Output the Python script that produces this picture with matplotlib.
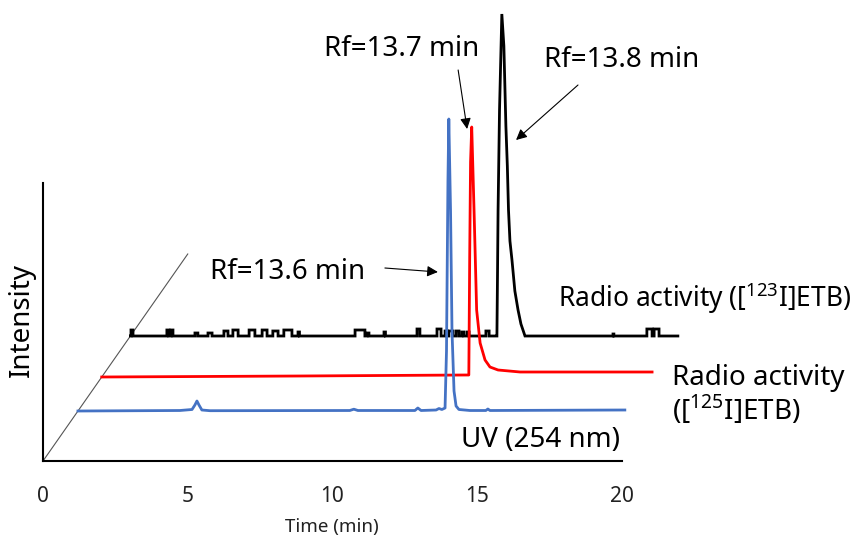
import matplotlib
matplotlib.use("Agg")
import matplotlib.pyplot as plt

plt.rcParams['font.family'] = ['Noto Sans', 'DejaVu Sans']
plt.rcParams['mathtext.fontset'] = 'custom'
plt.rcParams['mathtext.rm'] = 'Noto Sans'

# ── data: retention time (min, own frame) vs. signal (a.u.) ──────────────────

# UV 254 nm
uv_t = [0.00, 3.52, 3.94, 4.04, 4.11, 4.18, 4.28, 4.56, 9.39, 9.53, 9.67,
        11.64, 11.74, 11.85, 12.37, 12.47, 12.57, 12.68, 12.73, 12.78, 12.81,
        12.87, 12.92, 12.99, 13.06, 13.16, 13.54, 14.09, 14.16, 14.23, 18.89]
uv_h = [0, 0.5, 1.5, 6, 10, 6, 1, 0.3, 0.5, 1.8, 0.5,
        0.5, 3, 0.5, 1, 2.5, 1.5, 3, 60, 230, 292,
        200, 80, 20, 5, 1.5, 0.5, 0.5, 2, 0.5, 1]

# [125I]ETB radio trace
i125_t = [0.00, 6.85, 12.58, 12.68, 12.71, 12.74, 12.78, 12.86, 12.95, 13.07,
          13.24, 13.41, 13.69, 14.45, 19.01]
i125_h = [0, 1, 2, 2, 120, 215, 250, 167, 67, 34, 17, 10, 7, 5, 5]

# [123I]ETB radio trace: main peak + digitiser noise pulses
i123_peak_t = [12.63, 12.66, 12.68, 12.70, 12.75, 12.83, 12.90, 12.97, 13.02,
               13.06, 13.11, 13.18, 13.28, 13.39, 13.49, 13.56, 13.63]
i123_peak_h = [0, 0, 60, 126, 226, 322, 290, 210, 170, 126, 95, 76, 45, 26,
               12, 6, 0]
i123_end = 18.91
pulse_start = [0.02, 1.26, 1.40, 2.23, 2.68, 3.23, 3.54, 4.10, 4.55, 4.92, 5.30,
               5.79, 7.76, 8.17, 8.76, 9.90, 10.59, 10.87, 11.00, 11.25, 11.45,
               11.63, 12.28, 16.67, 17.84, 18.09]
pulse_end = [0.09, 1.33, 1.47, 2.33, 2.82, 3.37, 3.72, 4.30, 4.72, 5.10, 5.58,
             5.84, 8.10, 8.24, 8.81, 10.00, 10.73, 10.94, 11.14, 11.35, 11.52,
             11.70, 12.39, 16.70, 18.02, 18.26]
pulse_height = [6, 6, 6, 3, 3, 5, 6, 6, 6, 5, 6, 4, 6, 3, 4, 7, 7, 5, 5, 5, 4,
                4, 5, 2, 7, 7]

# waterfall layout: vertical offset of each trace, diagonal depth axis
offsets = {'uv': 50, 'i125': 84, 'i123': 125}
depth_end = (5.0, 207)
slope = depth_end[0] / depth_end[1]

# build the stepped [123I] trace
segments = [(list(i123_peak_t), list(i123_peak_h))]
for s, e, h in zip(pulse_start, pulse_end, pulse_height):
    segments.append(([s, s, e, e], [0, h, h, 0]))
segments.sort(key=lambda seg: seg[0][0])
i123_t, i123_h = [0.0], [0.0]
for ts, hs in segments:
    i123_t += ts
    i123_h += hs
i123_t.append(i123_end)
i123_h.append(0)


def shifted(t, h, off):
    return [v + off * slope for v in t], [v + off for v in h]


# ── figure ────────────────────────────────────────────────────────────────────

fig = plt.figure(figsize=(8.65, 5.35), dpi=100)
ax = fig.add_axes([0, 0, 1, 1])
ax.set_xlim(-43 / 28.95, (865 - 43) / 28.95)
ax.set_ylim(-74, 461)

for side in ['top', 'right']:
    ax.spines[side].set_visible(False)
ax.spines['bottom'].set_position(('data', 0))
ax.spines['bottom'].set_bounds(0, 20)
ax.spines['left'].set_position(('data', 0))
ax.spines['left'].set_bounds(0, 278)
for side in ['bottom', 'left']:
    ax.spines[side].set_linewidth(1.5)
ax.set_yticks([])
ax.set_xticks([0, 5, 10, 15, 20])
ax.tick_params(axis='x', length=0, pad=18, labelsize=15, colors='#222222')

# depth axis
ax.plot([0, depth_end[0]], [0, depth_end[1]], color='#555555', lw=0.8)

x, y = shifted(i123_t, i123_h, offsets['i123'])
ax.plot(x, y, color='black', lw=2, zorder=3, solid_joinstyle='miter')
x, y = shifted(i125_t, i125_h, offsets['i125'])
ax.plot(x, y, color='#FF0000', lw=2, zorder=4)
x, y = shifted(uv_t, uv_h, offsets['uv'])
ax.plot(x, y, color='#4472C4', lw=2, zorder=5)

# labels
fs = 20
ax.text(-0.73, 141, 'Intensity', rotation=90, ha='center', va='center', fontsize=20)
ax.text(9.98, -66, 'Time (min)', ha='center', va='center', fontsize=13.5, color='#222222')
ax.text(17.80, 163, r'Radio activity ([$^{\mathregular{123}}$I]ETB)', ha='left',
        va='center', fontsize=19)
ax.text(21.73, 83, 'Radio activity', ha='left', va='center', fontsize=fs)
ax.text(21.73, 51, r'([$^{\mathregular{125}}$I]ETB)', ha='left', va='center', fontsize=fs)
ax.text(17.20, 21, 'UV (254 nm)', ha='center', va='center', fontsize=fs)

arrow = dict(arrowstyle='-|>', color='black', lw=0.8, mutation_scale=16,
             shrinkA=0, shrinkB=0)
ax.text(8.46, 189, 'Rf=13.6 min', ha='center', va='center', fontsize=fs)
ax.annotate('', xy=(13.64, 189), xytext=(11.81, 193), arrowprops=arrow)
ax.text(12.40, 412, 'Rf=13.7 min', ha='center', va='center', fontsize=fs)
ax.annotate('', xy=(14.65, 332), xytext=(14.34, 391), arrowprops=arrow)
ax.text(19.97, 401, 'Rf=13.8 min', ha='center', va='center', fontsize=fs)
ax.annotate('', xy=(16.34, 321), xytext=(18.48, 376), arrowprops=arrow)

fig.savefig('out.png', dpi=100)
